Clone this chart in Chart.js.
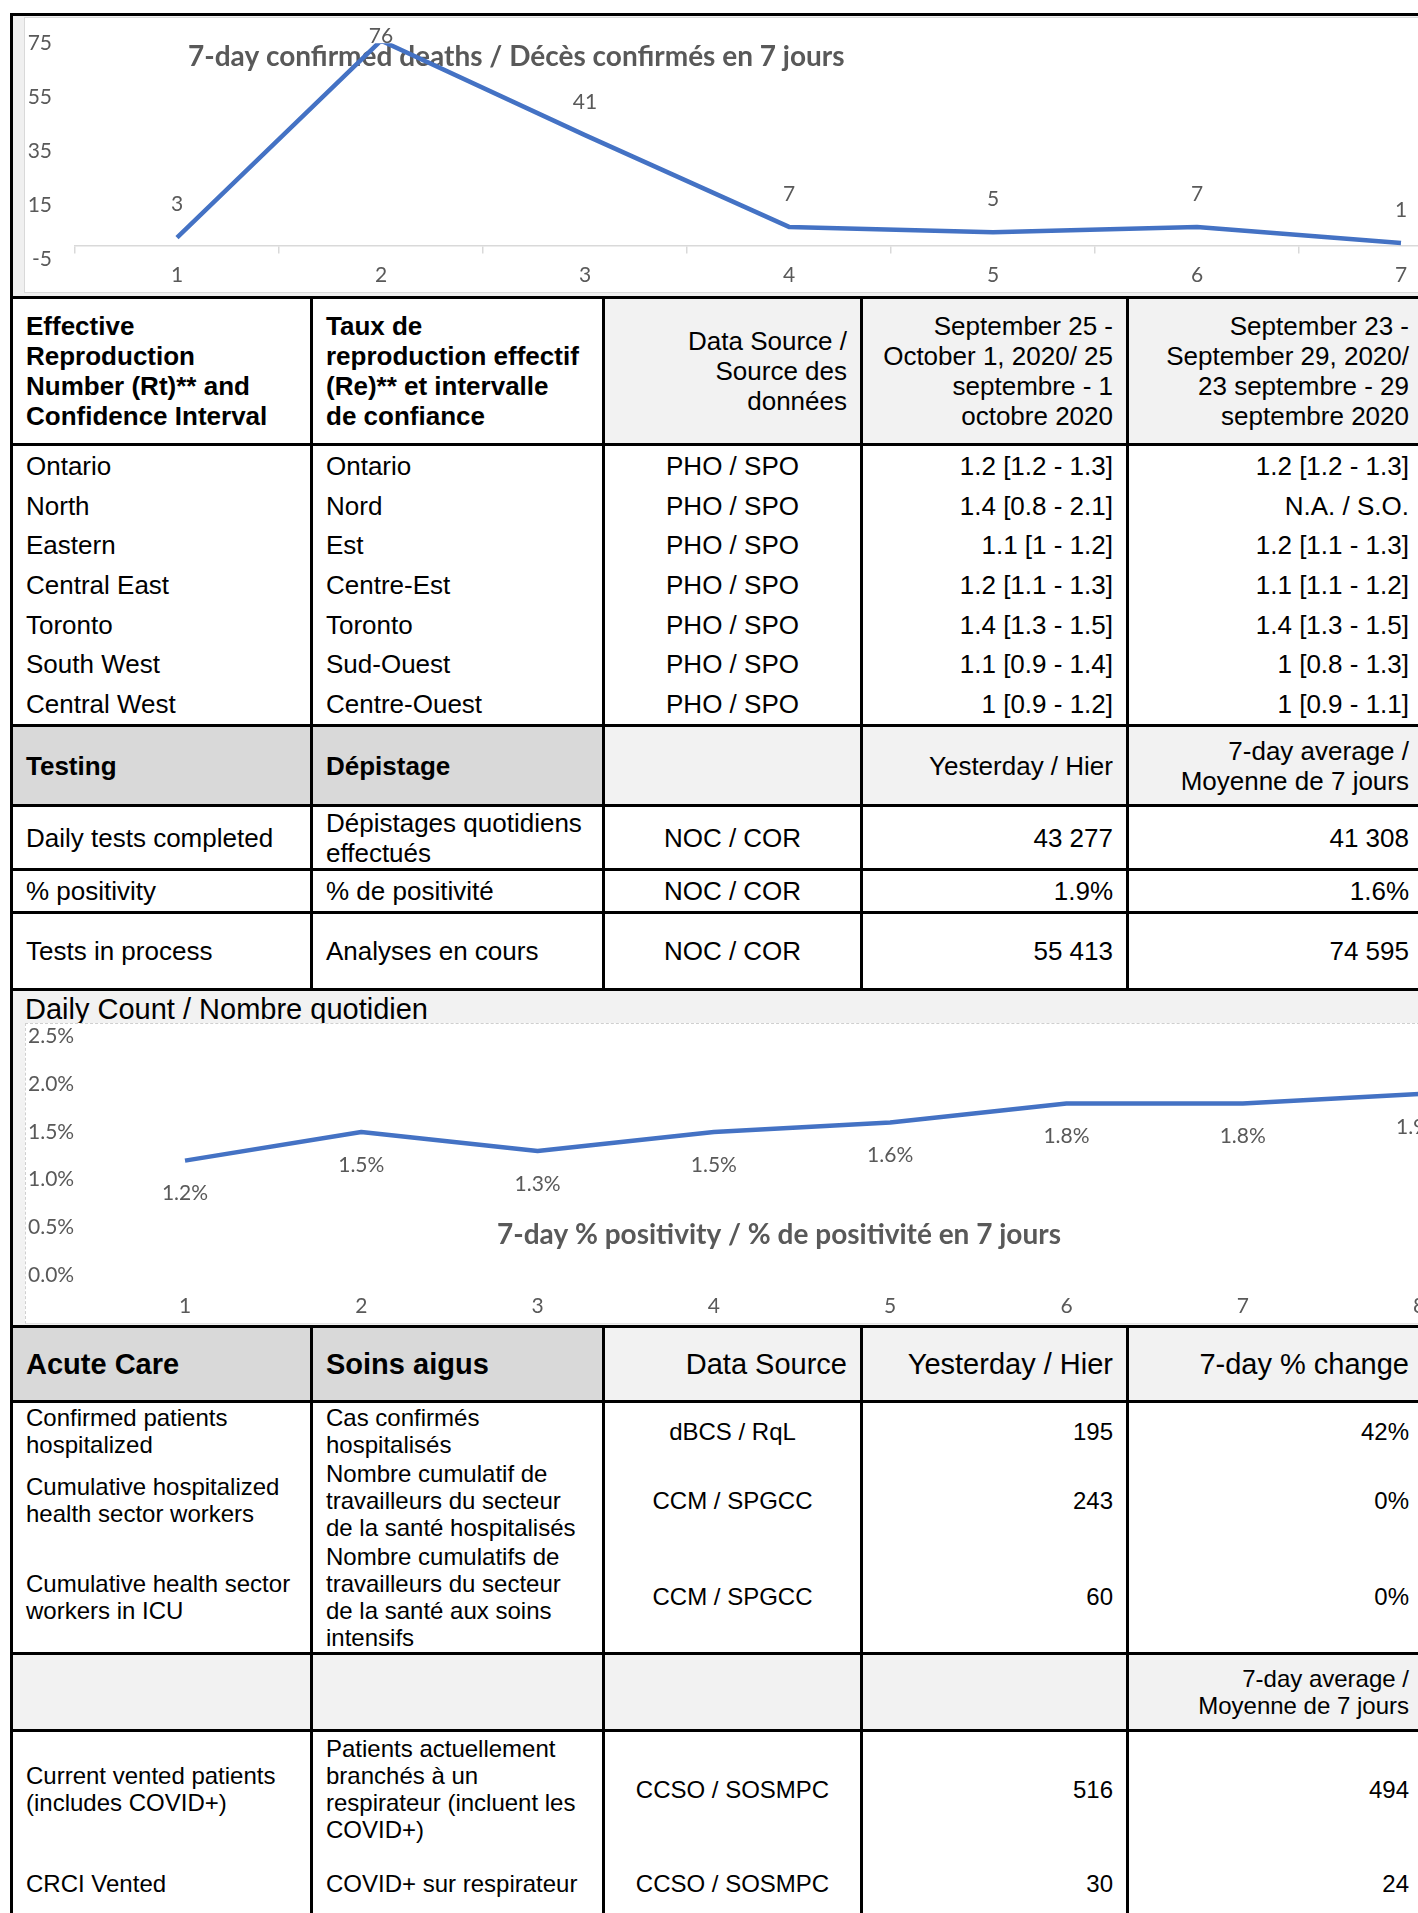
<!DOCTYPE html>
<html>
<head>
<meta charset="utf-8">
<title>Ontario COVID-19 summary</title>
<script src="https://cdn.jsdelivr.net/npm/chart.js@4.4.1/dist/chart.umd.min.js"></script>
<style>
  html, body { margin: 0; padding: 0; background: #fff; }
  #page { position: relative; width: 1418px; height: 1913px; overflow: hidden;
          font-family: "Liberation Sans", Arial, sans-serif; color: #000; }
  .cell { position: absolute; box-sizing: border-box; display: flex; align-items: center;
          padding: 0 13px; font-size: 26px; line-height: 30px; white-space: nowrap; }
  .small { font-size: 24px; line-height: 27px; }
  .big { font-size: 29px; line-height: 32px; }
  .b { font-weight: bold; }
</style>
</head>
<body>
<div id="page"></div>
<script>
// Chart data
const deathDays = ['1', '2', '3', '4', '5', '6', '7'];
const deathValues = [3, 76, 41, 7, 5, 7, 1];
const deathTicks = [-5, 15, 35, 55, 75];
const deathsTitle = '7-day confirmed deaths / Décès confirmés en 7 jours';

const positivityDays = ['1', '2', '3', '4', '5', '6', '7', '8'];
const positivityValues = [1.2, 1.5, 1.3, 1.5, 1.6, 1.8, 1.8, 1.9];
const positivityTicks = [0, 0.5, 1, 1.5, 2, 2.5];
const positivityTitle = '7-day % positivity / % de positivité en 7 jours';

// Table data
const regionsEn = ['Ontario', 'North', 'Eastern', 'Central East', 'Toronto', 'South West', 'Central West'];
const regionsFr = ['Ontario', 'Nord', 'Est', 'Centre-Est', 'Toronto', 'Sud-Ouest', 'Centre-Ouest'];
const rtCurrent = ['1.2 [1.2 - 1.3]', '1.4 [0.8 - 2.1]', '1.1 [1 - 1.2]', '1.2 [1.1 - 1.3]', '1.4 [1.3 - 1.5]', '1.1 [0.9 - 1.4]', '1 [0.9 - 1.2]'];
const rtPrevious = ['1.2 [1.2 - 1.3]', 'N.A. / S.O.', '1.2 [1.1 - 1.3]', '1.1 [1.1 - 1.2]', '1.4 [1.3 - 1.5]', '1 [0.8 - 1.3]', '1 [0.9 - 1.1]'];

const page = document.getElementById('page');
const colX = [10, 310, 602, 860, 1126, 1422];
const LIGHT = '#f2f2f2';
const DARK = '#d9d9d9';

function box(x, y, w, h, css, cls) {
    const d = document.createElement('div');
    d.style.cssText = `position:absolute;left:${x}px;top:${y}px;width:${w}px;height:${h}px;` + (css || '');
    if (cls) d.className = cls;
    page.appendChild(d);
    return d;
}

function cell(col, y0, y1, html, align, cls, bg) {
    const x0 = colX[col] + 3;
    const d = box(x0, y0, colX[col + 1] - x0, y1 - y0, bg ? `background:${bg};` : '', 'cell ' + (cls || ''));
    align = align || 'left';
    d.style.justifyContent = { left: 'flex-start', center: 'center', right: 'flex-end' }[align];
    d.innerHTML = `<div style="text-align:${align}">${html}</div>`;
}

function row(y0, y1, texts, aligns, cls, bgs) {
    texts.forEach((t, i) => cell(i, y0, y1, t, aligns[i], cls, bgs ? bgs[i] : null));
}

const rowAligns = ['left', 'left', 'center', 'right', 'right'];
const headAligns = ['left', 'left', 'right', 'right', 'right'];

// ---- chart 1 frame ----
box(13, 16, 1409, 280, 'background:#f0f0f0');
box(24, 17, 1420, 276, 'background:#fff;border:1px solid #d9d9d9;box-sizing:border-box');
const c1 = document.createElement('canvas');
c1.width = 1490; c1.height = 276;
c1.style.cssText = 'position:absolute;left:24px;top:17px;width:1490px;height:276px';
page.appendChild(c1);

// ---- reproduction number table ----
row(299, 443, [
    '<b>Effective<br>Reproduction<br>Number (Rt)** and<br>Confidence Interval</b>',
    '<b>Taux de<br>reproduction effectif<br>(Re)** et intervalle<br>de confiance</b>',
    'Data Source /<br>Source des<br>données',
    'September 25 -<br>October 1, 2020/ 25<br>septembre - 1<br>octobre 2020',
    'September 23 -<br>September 29, 2020/<br>23 septembre - 29<br>septembre 2020'
], headAligns, '', [null, null, LIGHT, LIGHT, LIGHT]);

regionsEn.forEach((r, i) => {
    const y0 = 446 + i * 39.7;
    row(y0, y0 + 39.7, [r, regionsFr[i], 'PHO / SPO', rtCurrent[i], rtPrevious[i]], rowAligns);
});

// ---- testing ----
row(727, 804, ['<b>Testing</b>', '<b>Dépistage</b>', '', 'Yesterday / Hier', '7-day average /<br>Moyenne de 7 jours'],
    headAligns, '', [DARK, DARK, LIGHT, LIGHT, LIGHT]);
row(807, 868, ['Daily tests completed', 'Dépistages quotidiens<br>effectués', 'NOC / COR', '43 277', '41 308'], rowAligns);
row(871, 911, ['% positivity', '% de positivité', 'NOC / COR', '1.9%', '1.6%'], rowAligns);
row(914, 988, ['Tests in process', 'Analyses en cours', 'NOC / COR', '55 413', '74 595'], rowAligns);

// ---- chart 2 frame ----
box(13, 991, 1409, 334, 'background:#f2f2f2');
const t2 = box(25, 993, 600, 32, 'font-size:29px;line-height:32px');
t2.textContent = 'Daily Count / Nombre quotidien';
box(25, 1023, 1400, 301, 'background:#fff;border-top:1px dashed #cfcfcf;border-left:1px dashed #cfcfcf;border-bottom:1px solid #e3e3e3;box-sizing:border-box');
const c2 = document.createElement('canvas');
c2.width = 1490; c2.height = 300;
c2.style.cssText = 'position:absolute;left:25px;top:1023px;width:1490px;height:300px';
page.appendChild(c2);

// ---- acute care ----
row(1328, 1400, ['<b>Acute Care</b>', '<b>Soins aigus</b>', 'Data Source', 'Yesterday / Hier', '7-day % change'],
    headAligns, 'big', [DARK, DARK, LIGHT, LIGHT, LIGHT]);
row(1403, 1459, ['Confirmed patients<br>hospitalized', 'Cas confirmés<br>hospitalisés', 'dBCS / RqL', '195', '42%'], rowAligns, 'small');
row(1459, 1541, ['Cumulative hospitalized<br>health sector workers', 'Nombre cumulatif de<br>travailleurs du secteur<br>de la santé hospitalisés', 'CCM / SPGCC', '243', '0%'], rowAligns, 'small');
row(1541, 1652, ['Cumulative health sector<br>workers in ICU', 'Nombre cumulatifs de<br>travailleurs du secteur<br>de la santé aux soins<br>intensifs', 'CCM / SPGCC', '60', '0%'], rowAligns, 'small');
row(1655, 1729, ['', '', '', '', '7-day average /<br>Moyenne de 7 jours'], headAligns, 'small', [LIGHT, LIGHT, LIGHT, LIGHT, LIGHT]);
row(1732, 1846, ['Current vented patients<br>(includes COVID+)', 'Patients actuellement<br>branchés à un<br>respirateur (incluent les<br>COVID+)', 'CCSO / SOSMPC', '516', '494'], rowAligns, 'small');
row(1846, 1920, ['CRCI Vented', 'COVID+ sur respirateur', 'CCSO / SOSMPC', '30', '24'], rowAligns, 'small');

// ---- rules ----
[13, 296, 443, 724, 804, 868, 911, 988, 1325, 1400, 1652, 1729].forEach(y => box(10, y, 1415, 3, 'background:#000'));
box(10, 13, 3, 1900, 'background:#000');
colX.slice(1).forEach(x => {
    box(x, 296, 3, 692, 'background:#000');
    box(x, 1325, 3, 600, 'background:#000');
});

// ---- Chart.js ----
const GREY = '#595959';
const tickFont = { family: 'Lato, "Liberation Sans", sans-serif', size: 21 };

const chartTitle = {
    id: 'chartTitle',
    beforeDatasetsDraw(chart, args, opts) {
        const ctx = chart.ctx;
        ctx.save();
        ctx.font = 'bold 28px Lato, "Liberation Sans", sans-serif';
        ctx.fillStyle = GREY;
        ctx.textAlign = 'left';
        ctx.textBaseline = 'middle';
        ctx.fillText(opts.text, opts.x, opts.y);
        ctx.restore();
    }
};

const pointLabels = {
    id: 'pointLabels',
    afterDatasetsDraw(chart, args, opts) {
        const ctx = chart.ctx;
        const values = chart.data.datasets[0].data;
        ctx.save();
        ctx.font = '21px Lato, "Liberation Sans", sans-serif';
        ctx.fillStyle = GREY;
        ctx.textAlign = 'center';
        ctx.textBaseline = 'middle';
        chart.getDatasetMeta(0).data.forEach((pt, i) => {
            const y = Math.max(opts.minY, pt.y + opts.offset);
            ctx.fillText(values[i].toFixed(opts.decimals) + opts.suffix, pt.x, y);
        });
        ctx.restore();
    }
};

new Chart(c1, {
    type: 'line',
    data: {
        labels: deathDays,
        datasets: [{ data: deathValues, borderColor: '#4472C4', borderWidth: 4.5, pointRadius: 0, tension: 0, borderJoinStyle: 'round' }]
    },
    options: {
        responsive: false,
        animation: false,
        devicePixelRatio: 1,
        layout: { padding: { left: 0, right: 11, top: 26.3, bottom: 33.7 } },
        plugins: {
            legend: { display: false },
            tooltip: { enabled: false },
            chartTitle: { text: deathsTitle, x: 164, y: 40 },
            pointLabels: { offset: -33, minY: 19, decimals: 0, suffix: '' }
        },
        scales: {
            x: {
                position: { y: 0 },
                offset: true,
                grid: { offset: true, drawOnChartArea: false, drawTicks: true, tickLength: 7, color: '#d9d9d9', lineWidth: 1.5 },
                border: { display: true, color: '#d9d9d9', width: 1.5 },
                ticks: { font: tickFont, color: GREY, padding: 9.6, maxRotation: 0, autoSkip: false }
            },
            y: {
                min: -5,
                max: 75,
                afterBuildTicks: s => { s.ticks = deathTicks.map(v => ({ value: v })); },
                afterFit: s => { s.width = 51; },
                grid: { display: false, drawTicks: true, tickLength: 23 },
                border: { display: false },
                ticks: { font: tickFont, color: GREY, padding: 0 }
            }
        }
    },
    plugins: [chartTitle, pointLabels]
});

new Chart(c2, {
    type: 'line',
    data: {
        labels: positivityDays,
        datasets: [{ data: positivityValues, borderColor: '#4472C4', borderWidth: 4.5, pointRadius: 0, tension: 0, borderJoinStyle: 'round' }]
    },
    options: {
        responsive: false,
        animation: false,
        devicePixelRatio: 1,
        layout: { padding: { left: 3, right: 7.8, top: 13.7, bottom: 48 } },
        plugins: {
            legend: { display: false },
            tooltip: { enabled: false },
            chartTitle: { text: positivityTitle, x: 472, y: 212 },
            pointLabels: { offset: 33, minY: 0, decimals: 1, suffix: '%' }
        },
        scales: {
            x: {
                position: { y: 0 },
                offset: true,
                grid: { display: false, drawTicks: false },
                border: { display: false },
                ticks: { font: tickFont, color: GREY, padding: 18.4, maxRotation: 0, autoSkip: false }
            },
            y: {
                min: 0,
                max: 2.5,
                afterBuildTicks: s => { s.ticks = positivityTicks.map(v => ({ value: v })); },
                afterFit: s => { s.width = 68.85; },
                grid: { display: false, drawTicks: false },
                border: { display: false },
                ticks: { font: tickFont, color: GREY, padding: 0, crossAlign: 'far', callback: v => v.toFixed(1) + '%' }
            }
        }
    },
    plugins: [chartTitle, pointLabels]
});
</script>
</body>
</html>
